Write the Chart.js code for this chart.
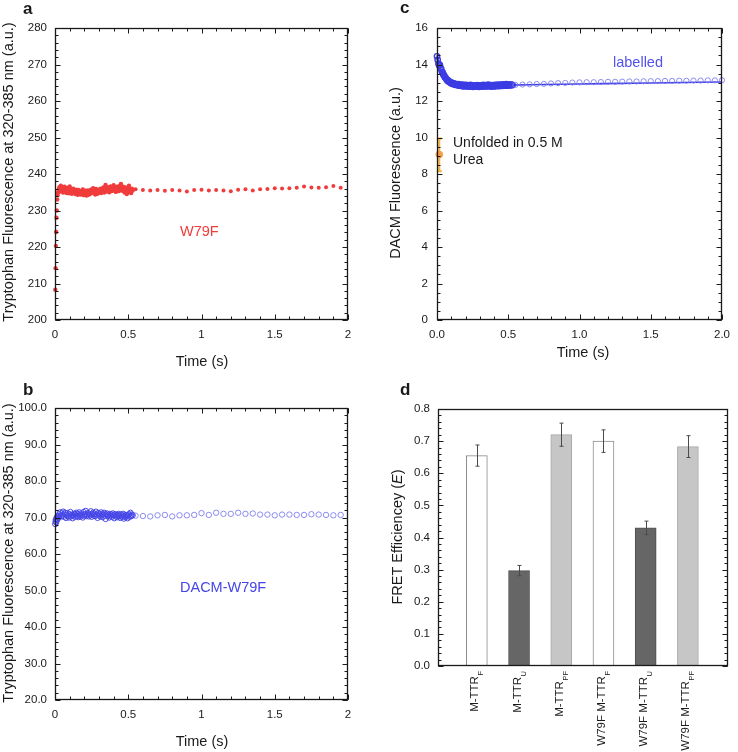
<!DOCTYPE html>
<html lang="en">
<head>
<meta charset="UTF-8">
<title>Stopped-flow fluorescence and FRET efficiency</title>
<style>
  body { margin: 0; background: #ffffff; }
  #fig { position: relative; width: 738px; height: 752px; overflow: hidden; }
  #fig canvas { position: absolute; left: 0; top: 0; }
</style>
</head>
<body>
<div id="fig">
  <canvas id="panelA" width="738" height="752"></canvas>
  <canvas id="panelB" width="738" height="752"></canvas>
  <canvas id="panelC" width="738" height="752"></canvas>
  <canvas id="panelD" width="738" height="752"></canvas>
</div>

<script src="https://cdn.jsdelivr.net/npm/chart.js@4.4.3/dist/chart.umd.min.js"></script>
<script>
// ---- data ----
const onsetTimes = [0.002, 0.004, 0.006, 0.008, 0.010, 0.012, 0.015, 0.018, 0.021, 0.025];
const fastTimes = [
  0.030, 0.035, 0.040, 0.045, 0.050, 0.055, 0.060, 0.065, 0.070, 0.075,
  0.080, 0.085, 0.090, 0.095, 0.100, 0.105, 0.110, 0.115, 0.120, 0.125,
  0.130, 0.135, 0.140, 0.145, 0.150, 0.155, 0.160, 0.165, 0.170, 0.175,
  0.180, 0.185, 0.190, 0.195, 0.200, 0.205, 0.210, 0.215, 0.220, 0.225,
  0.230, 0.235, 0.240, 0.245, 0.250, 0.255, 0.260, 0.265, 0.270, 0.275,
  0.280, 0.285, 0.290, 0.295, 0.300, 0.305, 0.310, 0.315, 0.320, 0.325,
  0.330, 0.335, 0.340, 0.345, 0.350, 0.355, 0.360, 0.365, 0.370, 0.375,
  0.380, 0.385, 0.390, 0.395, 0.400, 0.405, 0.410, 0.415, 0.420, 0.425,
  0.430, 0.435, 0.440, 0.445, 0.450, 0.455, 0.460, 0.465, 0.470, 0.475,
  0.480, 0.485, 0.490, 0.495, 0.500, 0.505, 0.510, 0.515, 0.520, 0.525,
  0.530
];
const slowTimes = [0.55, 0.60, 0.65, 0.70, 0.75, 0.80, 0.85, 0.90, 0.95, 1.00,
  1.05, 1.10, 1.15, 1.20, 1.25, 1.30, 1.35, 1.40, 1.45, 1.50,
  1.55, 1.60, 1.65, 1.70, 1.75, 1.80, 1.85, 1.90, 1.95];

// panel a: W79F tryptophan fluorescence
const w79fOnset = [208.3, 214.2, 220.3, 224.1, 228.0, 230.0, 233.0, 234.2, 235.0, 235.8];
const w79fFast = [
  236.4, 235.2, 236.8, 235.6, 236.1, 234.9, 235.8, 236.5, 235.1, 235.9,
  234.8, 236.2, 235.4, 234.7, 236.6, 235.3, 235.9, 234.6, 235.5, 236.0,
  234.9, 235.4, 234.5, 235.7, 235.0, 234.3, 235.6, 234.8, 235.3, 234.4,
  235.1, 234.6, 235.8, 234.2, 235.0, 234.5, 235.4, 234.1, 234.9, 235.5,
  234.3, 235.2, 234.6, 235.7, 234.8, 235.3, 236.1, 234.7, 235.5, 234.4,
  235.9, 235.0, 234.6, 235.6, 234.9, 235.4, 236.0, 234.8, 235.5, 235.1,
  236.3, 234.9, 235.7, 237.0, 235.2, 236.0, 235.4, 236.4, 235.0, 235.8,
  236.6, 235.3, 236.1, 235.5, 236.9, 235.6, 236.2, 235.1, 236.5, 235.8,
  236.0, 235.3, 236.7, 235.7, 237.3, 236.1, 235.4, 236.5, 235.9, 234.9,
  236.3, 235.6, 234.5, 236.2, 235.4, 236.8, 235.0, 235.9, 234.8, 236.0,
  235.5
];
const w79fSlow = [235.8, 235.6, 235.5, 235.6, 235.4, 235.6, 235.5, 235.2, 235.6, 235.7,
  235.5, 235.6, 235.5, 235.3, 235.7, 235.8, 235.5, 235.8, 235.9, 236.1,
  236.0, 236.1, 236.2, 236.6, 236.3, 236.2, 236.4, 236.7, 236.2];

// panel b: DACM-W79F tryptophan fluorescence
const dacmW79fOnset = [68.2, 68.9, 69.4, 68.7, 69.8, 69.3, 70.2, 69.6, 70.4, 70.0];
const dacmW79fFast = [
  70.9, 71.4, 70.3, 71.1, 70.6, 71.6, 70.2, 70.8, 71.3, 69.9,
  70.7, 71.2, 70.4, 70.0, 70.9, 71.5, 70.3, 70.7, 69.8, 70.5,
  71.0, 70.2, 70.8, 71.3, 70.4, 70.9, 70.1, 71.4, 70.6, 70.3,
  71.1, 70.7, 70.0, 71.5, 70.5, 70.9, 71.8, 70.4, 70.8, 71.2,
  70.3, 71.0, 70.6, 71.7, 70.2, 70.9, 71.3, 70.5, 71.0, 70.4,
  71.6, 70.8, 69.9, 71.2, 70.6, 71.0, 70.3, 71.4, 70.7, 70.1,
  70.9, 71.3, 70.5, 69.6, 70.8, 71.1, 70.4, 70.7, 70.0, 71.0,
  70.5, 70.8, 70.2, 71.1, 70.6, 69.8, 70.9, 70.3, 70.7, 70.1,
  70.6, 71.0, 70.4, 69.9, 70.8, 70.2, 70.6, 71.0, 69.7, 70.5,
  70.1, 70.7, 70.3, 69.8, 70.6, 70.9, 70.2, 71.3, 70.4, 70.8,
  70.6
];
const dacmW79fSlow = [70.5, 70.4, 70.3, 70.6, 70.7, 70.3, 70.6, 70.6, 70.7, 71.2,
  70.7, 71.3, 71.0, 71.0, 71.3, 71.0, 71.1, 70.8, 70.8, 70.6,
  70.8, 70.8, 70.7, 70.7, 70.9, 70.8, 70.7, 70.6, 70.7];

// panel c: DACM fluorescence of labelled protein
const labelledOnsetTimes = [0.000, 0.005, 0.010, 0.015, 0.020, 0.025];
const labelledOnset = [14.45, 14.25, 14.05, 13.95, 13.98, 13.82];
const labelledFast = [
  13.74, 13.60, 13.55, 13.44, 13.40, 13.30, 13.28, 13.20, 13.17, 13.10,
  13.12, 13.05, 13.04, 12.98, 13.02, 12.96, 12.95, 12.92, 12.97, 12.90,
  12.93, 12.88, 12.91, 12.86, 12.92, 12.87, 12.84, 12.90, 12.85, 12.82,
  12.89, 12.84, 12.80, 12.87, 12.83, 12.88, 12.81, 12.85, 12.79, 12.86,
  12.82, 12.88, 12.80, 12.84, 12.78, 12.86, 12.81, 12.85, 12.79, 12.83,
  12.87, 12.80, 12.84, 12.78, 12.85, 12.81, 12.86, 12.79, 12.83, 12.88,
  12.80, 12.85, 12.82, 12.87, 12.80, 12.84, 12.89, 12.81, 12.86, 12.83,
  12.79, 12.87, 12.82, 12.85, 12.80, 12.88, 12.83, 12.86, 12.81, 12.89,
  12.84, 12.87, 12.82, 12.90, 12.85, 12.88, 12.83, 12.91, 12.86, 12.89,
  12.84, 12.92, 12.87, 12.90, 12.85, 12.91, 12.88, 12.86, 12.90, 12.87,
  12.88
];
const labelledSlowTimes = [0.55, 0.60, 0.65, 0.70, 0.75, 0.80, 0.85, 0.90, 0.95, 1.00,
  1.05, 1.10, 1.15, 1.20, 1.25, 1.30, 1.35, 1.40, 1.45, 1.50,
  1.55, 1.60, 1.65, 1.70, 1.75, 1.80, 1.85, 1.90, 1.95, 2.00];
const labelledSlow = [12.88, 12.90, 12.91, 12.93, 12.94, 12.96, 12.98, 12.99, 13.01, 13.02,
  13.03, 13.03, 13.04, 13.05, 13.05, 13.06, 13.07, 13.07, 13.08, 13.09,
  13.09, 13.10, 13.10, 13.11, 13.11, 13.12, 13.12, 13.13, 13.13, 13.14];
const fitTimes = [0, 0.01, 0.02, 0.03, 0.04, 0.05, 0.06, 0.08, 0.10, 0.12, 0.15, 0.20, 0.30, 0.50, 0.75, 1.00, 1.50, 2.00];
const fitValues = [14.50, 14.12, 13.85, 13.66, 13.50, 13.38, 13.28, 13.13, 13.03, 12.96, 12.90, 12.86, 12.85, 12.87, 12.90, 12.93, 12.99, 13.04];
const unfoldedTime = 0.016;
const unfoldedValue = 9.07;
const unfoldedLow = 8.15;
const unfoldedHigh = 9.94;

// panel d: FRET efficiency
const fretMain = ['M-TTR', 'M-TTR', 'M-TTR', 'W79F M-TTR', 'W79F M-TTR', 'W79F M-TTR'];
const fretSub = ['F', 'U', 'PF', 'F', 'U', 'PF'];
const fretValues = [0.655, 0.297, 0.720, 0.700, 0.430, 0.683];
const fretErrors = [0.033, 0.016, 0.036, 0.035, 0.021, 0.034];
const fretState = ['F', 'U', 'PF', 'F', 'U', 'PF'];

// ---- styling ----
const FONT = "'Liberation Sans', Arial, Helvetica, sans-serif";
Chart.defaults.font.family = FONT;
Chart.defaults.color = '#1a1a1a';
const fillFor = { F: '#ffffff', U: '#666666', PF: '#c6c6c6' };
const edgeFor = { F: '#8c8c8c', U: '#505050', PF: '#a9a9a9' };

const pairs = (ts, vs) => ts.map((t, i) => ({ x: t, y: vs[i] }));

// frame with inward ticks on all sides
const framePlugin = {
  id: 'frame',
  afterDraw(chart, args, o) {
    const { ctx, chartArea: a } = chart;
    const sx = chart.scales.x, sy = chart.scales.y;
    ctx.save();
    ctx.strokeStyle = '#1a1a1a';
    ctx.lineWidth = 1;
    const L = Math.round(a.left) + 0.5, R = Math.round(a.right) - 0.5;
    const T = Math.round(a.top) + 0.5, B = Math.round(a.bottom) - 0.5;
    ctx.beginPath();
    const ticks = (scale, step, len, horiz) => {
      const n = Math.round((scale.max - scale.min) / step);
      for (let i = 0; i <= n; i++) {
        const p = Math.round(scale.getPixelForValue(scale.min + i * step)) + 0.5;
        if (horiz) {
          ctx.moveTo(p, B); ctx.lineTo(p, B - len);
          if (o.top) { ctx.moveTo(p, T); ctx.lineTo(p, T + len); }
        } else {
          ctx.moveTo(L, p); ctx.lineTo(L + len, p);
          ctx.moveTo(R, p); ctx.lineTo(R - len, p);
        }
      }
    };
    if (o.xMajor) { ticks(sx, o.xMinor, 3, true); ticks(sx, o.xMajor, 5, true); }
    ticks(sy, o.yMinor, 3, false);
    ticks(sy, o.yMajor, 5, false);
    ctx.stroke();
    ctx.lineWidth = 1.3;
    ctx.strokeRect(L, T, R - L, B - T);
    ctx.restore();
  }
};

// free text: panel letters, axis titles, annotations
const textPlugin = {
  id: 'texts',
  afterDraw(chart, args, o) {
    const ctx = chart.ctx;
    o.items.forEach(it => {
      ctx.save();
      ctx.translate(it.x, it.y);
      if (it.rotate) ctx.rotate(-Math.PI / 2);
      ctx.font = (it.bold ? 'bold ' : '') + it.size + 'px ' + FONT;
      ctx.fillStyle = it.color || '#1a1a1a';
      ctx.textAlign = it.align || 'center';
      ctx.textBaseline = it.baseline || 'middle';
      ctx.fillText(it.text, 0, 0);
      ctx.restore();
    });
  }
};

function timeChart(id, box, cfg) {
  return new Chart(document.getElementById(id), {
    type: 'scatter',
    data: { datasets: cfg.datasets },
    options: {
      responsive: false,
      animation: false,
      events: [],
      layout: { padding: { left: box.l - 40, top: box.t, right: 738 - box.r, bottom: 752 - box.b - 30 } },
      plugins: {
        legend: { display: false },
        tooltip: { enabled: false },
        frame: cfg.frame,
        texts: { items: cfg.texts }
      },
      scales: {
        x: {
          type: 'linear', min: 0, max: 2,
          grid: { display: false, drawTicks: false },
          border: { display: false },
          ticks: { stepSize: 0.5, padding: 8, font: { size: 11.5 }, color: '#1a1a1a', callback: cfg.xFmt },
          afterFit: s => { s.height = 30; }
        },
        y: {
          type: 'linear', min: cfg.yMin, max: cfg.yMax,
          grid: { display: false, drawTicks: false },
          border: { display: false },
          ticks: { stepSize: cfg.yStep, padding: cfg.yPad || 8, font: { size: 11.5 }, color: '#1a1a1a', callback: cfg.yFmt },
          afterFit: s => { s.width = 40; }
        }
      }
    },
    plugins: [framePlugin, textPlugin].concat(cfg.extra || [])
  });
}

const plain = v => String(Math.round(v * 100) / 100);
const oneDec = v => v.toFixed(1);
const W79F_RED = '#f03c3c';
const BLUE = '#4646e8';
const BLUE_LIGHT = '#7f7ff2';

// panel a
timeChart('panelA', { l: 55, r: 348, t: 28, b: 320 }, {
  yMin: 200, yMax: 280, yStep: 10, xFmt: plain, yFmt: plain,
  frame: { xMajor: 0.5, xMinor: 0.1, yMajor: 10, yMinor: 2, top: true },
  datasets: [
    { data: pairs(onsetTimes, w79fOnset).concat(pairs(fastTimes, w79fFast)), pointRadius: 2.2, borderWidth: 0, backgroundColor: W79F_RED, clip: 4 },
    { data: pairs(slowTimes, w79fSlow), pointRadius: 2, borderWidth: 0, backgroundColor: W79F_RED, clip: 4 }
  ],
  texts: [
    { text: 'a', x: 23, y: 14, size: 17, bold: true, align: 'left', baseline: 'alphabetic' },
    { text: 'Tryptophan Fluorescence at 320-385 nm (a.u.)', x: 9, y: 172, size: 14.5, rotate: true },
    { text: 'Time (s)', x: 202, y: 362, size: 14.5 },
    { text: 'W79F', x: 180, y: 232, size: 14.5, align: 'left', color: W79F_RED }
  ]
});

// panel b
timeChart('panelB', { l: 55, r: 348, t: 408, b: 700 }, {
  yMin: 20, yMax: 100, yStep: 10, xFmt: plain, yFmt: oneDec,
  frame: { xMajor: 0.5, xMinor: 0.1, yMajor: 10, yMinor: 2, top: true },
  datasets: [
    { data: pairs(onsetTimes, dacmW79fOnset).concat(pairs(fastTimes, dacmW79fFast)), pointRadius: 2.7, borderWidth: 1, borderColor: BLUE, backgroundColor: 'rgba(0,0,0,0)', clip: 4 },
    { data: pairs(slowTimes, dacmW79fSlow), pointRadius: 2.7, borderWidth: 0.9, borderColor: BLUE_LIGHT, backgroundColor: 'rgba(0,0,0,0)', clip: 4 }
  ],
  texts: [
    { text: 'b', x: 23, y: 395, size: 17, bold: true, align: 'left', baseline: 'alphabetic' },
    { text: 'Tryptophan Fluorescence at 320-385 nm (a.u.)', x: 9, y: 553, size: 14.5, rotate: true },
    { text: 'Time (s)', x: 202, y: 742, size: 14.5 },
    { text: 'DACM-W79F', x: 180, y: 588, size: 14.5, align: 'left', color: BLUE }
  ]
});

// panel c: error bar for the unfolded reference point
const unfoldedBar = {
  id: 'unfoldedBar',
  afterDatasetsDraw(chart) {
    const { ctx } = chart;
    const sx = chart.scales.x, sy = chart.scales.y;
    const px = sx.getPixelForValue(unfoldedTime);
    const lo = sy.getPixelForValue(unfoldedLow), hi = sy.getPixelForValue(unfoldedHigh);
    ctx.save();
    ctx.strokeStyle = '#f2b43c';
    ctx.lineWidth = 2;
    ctx.beginPath();
    ctx.moveTo(px, lo); ctx.lineTo(px, hi);
    ctx.moveTo(px - 2.5, lo); ctx.lineTo(px + 2.5, lo);
    ctx.moveTo(px - 2.5, hi); ctx.lineTo(px + 2.5, hi);
    ctx.stroke();
    ctx.fillStyle = '#f4a047';
    ctx.beginPath();
    ctx.arc(px, sy.getPixelForValue(unfoldedValue), 3.8, 0, Math.PI * 2);
    ctx.fill();
    ctx.restore();
  }
};

timeChart('panelC', { l: 437, r: 729, t: 28, b: 320 }, {
  yMin: 0, yMax: 16, yStep: 2, xFmt: oneDec, yFmt: plain, yPad: 9,
  frame: { xMajor: 0.5, xMinor: 0.1, yMajor: 2, yMinor: 0.5, top: true },
  datasets: [
    { data: pairs(labelledSlowTimes, labelledSlow), pointRadius: 2.6, borderWidth: 0.9, borderColor: BLUE_LIGHT, backgroundColor: 'rgba(0,0,0,0)', clip: 4 },
    { data: pairs(labelledOnsetTimes, labelledOnset).concat(pairs(fastTimes, labelledFast)), pointRadius: 2.7, borderWidth: 1.4, borderColor: '#3c3ce4', backgroundColor: 'rgba(0,0,0,0)', clip: 4 },
    { data: pairs(fitTimes, fitValues), showLine: true, pointRadius: 0, borderColor: '#3c3ce4', borderWidth: 1.6, cubicInterpolationMode: 'monotone', clip: 2 }
  ],
  extra: [unfoldedBar],
  texts: [
    { text: 'c', x: 400, y: 13, size: 17, bold: true, align: 'left', baseline: 'alphabetic' },
    { text: 'DACM Fluorescence (a.u.)', x: 396, y: 173, size: 14.5, rotate: true },
    { text: 'Time (s)', x: 583, y: 353, size: 14.5 },
    { text: 'labelled', x: 613, y: 63, size: 14.5, align: 'left', color: '#5252ec' },
    { text: 'Unfolded in 0.5 M', x: 453, y: 143, size: 14, align: 'left' },
    { text: 'Urea', x: 453, y: 160, size: 14, align: 'left' }
  ]
});

// panel d: error bars, rotated category labels with subscripts, rich y title
const fretDecor = {
  id: 'fretDecor',
  afterDatasetsDraw(chart) {
    const { ctx, chartArea: a } = chart;
    const sx = chart.scales.x, sy = chart.scales.y;
    ctx.save();
    ctx.strokeStyle = '#4a4a4a';
    ctx.lineWidth = 1;
    ctx.beginPath();
    fretValues.forEach((v, i) => {
      const px = Math.round(sx.getPixelForValue(i + 1)) + 0.5;
      const lo = sy.getPixelForValue(v - fretErrors[i]), hi = sy.getPixelForValue(v + fretErrors[i]);
      ctx.moveTo(px, lo); ctx.lineTo(px, hi);
      ctx.moveTo(px - 2, lo); ctx.lineTo(px + 2, lo);
      ctx.moveTo(px - 2, hi); ctx.lineTo(px + 2, hi);
    });
    ctx.stroke();
    ctx.restore();

    fretMain.forEach((label, i) => {
      const cx = sx.getPixelForValue(i + 1);
      ctx.save();
      ctx.translate(cx, a.bottom + 5);
      ctx.rotate(-Math.PI / 2);
      ctx.fillStyle = '#1a1a1a';
      ctx.textBaseline = 'alphabetic';
      ctx.textAlign = 'right';
      ctx.font = '7.5px ' + FONT;
      const subW = ctx.measureText(fretSub[i]).width;
      ctx.fillText(fretSub[i], 0, 6.5);
      ctx.font = '11.5px ' + FONT;
      ctx.fillText(label, -subW - 0.5, 1.5);
      ctx.restore();
    });

    // y title with italic E
    const parts = [['FRET Efficiencey (', ''], ['E', 'italic '], [')', '']];
    ctx.save();
    ctx.translate(398, 537);
    ctx.rotate(-Math.PI / 2);
    ctx.fillStyle = '#1a1a1a';
    ctx.textBaseline = 'middle';
    ctx.textAlign = 'left';
    let total = 0;
    parts.forEach(p => { ctx.font = p[1] + '14.5px ' + FONT; total += ctx.measureText(p[0]).width; });
    let x0 = -total / 2;
    parts.forEach(p => { ctx.font = p[1] + '14.5px ' + FONT; ctx.fillText(p[0], x0, 0); x0 += ctx.measureText(p[0]).width; });
    ctx.restore();
  }
};

new Chart(document.getElementById('panelD'), {
  type: 'bar',
  data: {
    datasets: [{
      data: fretValues.map((v, i) => ({ x: i + 1, y: v })),
      backgroundColor: fretState.map(s => fillFor[s]),
      borderColor: fretState.map(s => edgeFor[s]),
      borderWidth: 1,
      barThickness: 21
    }]
  },
  options: {
    responsive: false,
    animation: false,
    events: [],
    layout: { padding: { left: 438 - 40, top: 409, right: 738 - 728, bottom: 752 - 666 - 30 } },
    plugins: {
      legend: { display: false },
      tooltip: { enabled: false },
      frame: { yMajor: 0.1, yMinor: 0.02 },
      texts: { items: [
        { text: 'd', x: 400, y: 395, size: 17, bold: true, align: 'left', baseline: 'alphabetic' }
      ] }
    },
    scales: {
      x: {
        type: 'linear', min: 0.08, max: 6.95, offset: false,
        grid: { display: false, drawTicks: false, offset: false },
        border: { display: false },
        ticks: { display: false },
        afterFit: s => { s.height = 30; }
      },
      y: {
        type: 'linear', min: 0, max: 0.8,
        grid: { display: false, drawTicks: false },
        border: { display: false },
        ticks: { stepSize: 0.1, padding: 8, font: { size: 11.5 }, color: '#1a1a1a', callback: oneDec },
        afterFit: s => { s.width = 40; }
      }
    }
  },
  plugins: [framePlugin, textPlugin, fretDecor]
});
</script>
</body>
</html>
